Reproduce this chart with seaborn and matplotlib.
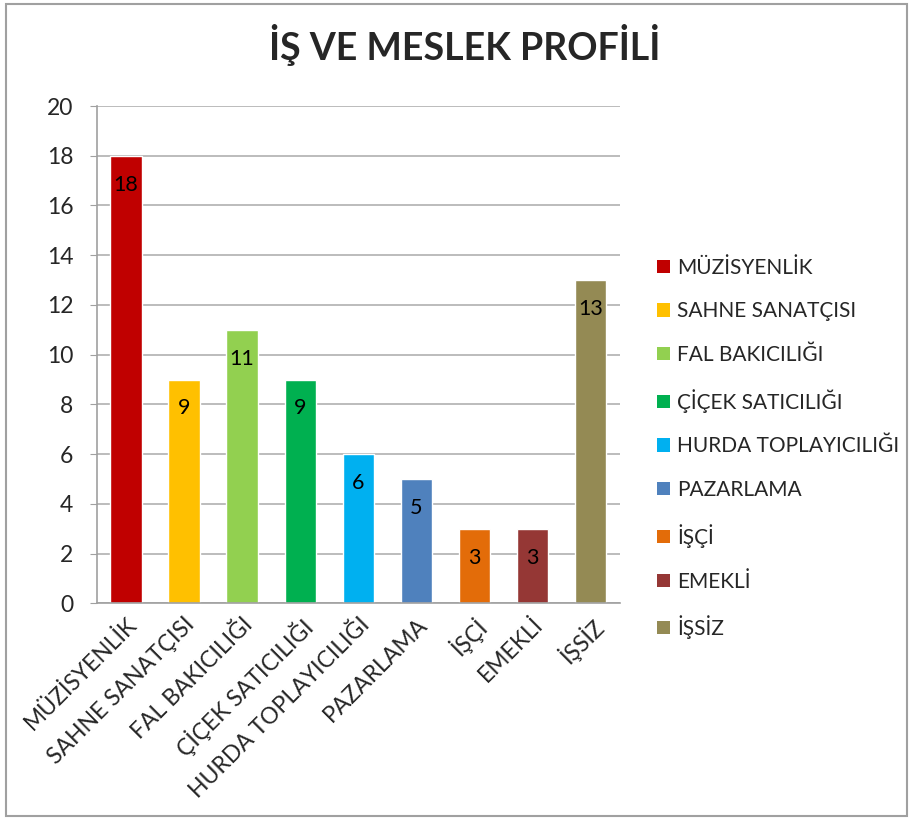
import matplotlib
matplotlib.use("Agg")
import matplotlib.pyplot as plt
import seaborn as sns
from matplotlib.patches import Patch, Rectangle

categories = ["MÜZİSYENLİK", "SAHNE SANATÇISI", "FAL BAKICILIĞI", "ÇİÇEK SATICILIĞI",
              "HURDA TOPLAYICILIĞI", "PAZARLAMA", "İŞÇİ", "EMEKLİ", "İŞSİZ"]
values = [18, 9, 11, 9, 6, 5, 3, 3, 13]
colors = ["#C00000", "#FFC000", "#92D050", "#00B050", "#00B0F0",
          "#4F81BD", "#E36C09", "#953735", "#948A54"]
y_ticks = list(range(0, 21, 2))

sns.set_style("white")
plt.rcParams["font.family"] = ["Lato", "DejaVu Sans"]

fig = plt.figure(figsize=(9.14, 8.22), dpi=100)
ax = fig.add_axes([0.106, 0.266, 0.572, 0.605])

sns.barplot(x=categories, y=values, hue=categories, palette=colors,
            width=0.54, saturation=1, legend=False, ax=ax)

ax.set_ylim(0, 20)
ax.set_yticks(y_ticks)
ax.set_xlim(-0.5, len(categories) - 0.5)
ax.yaxis.grid(True, color="#B0B0B0", linewidth=1.2)
ax.set_axisbelow(True)
for side in ["top", "right"]:
    ax.spines[side].set_visible(False)
for side in ["left", "bottom"]:
    ax.spines[side].set_color("#A0A0A0")
    ax.spines[side].set_linewidth(1.2)
ax.tick_params(axis="y", which="both", left=True, length=5, color="#A0A0A0",
               labelsize=16.5, pad=12)
ax.tick_params(axis="x", bottom=False, labelsize=16.5, pad=4)
plt.setp(ax.get_xticklabels(), rotation=45, ha="right", rotation_mode="anchor")

for cont in ax.containers:
    ax.bar_label(cont, padding=-28, fontsize=15.5, color="black")

handles = [Patch(facecolor=c, edgecolor="none") for c in colors]
ax.legend(handles, categories, loc="upper left", bbox_to_anchor=(1.056, 0.712),
          frameon=False, fontsize=15, handlelength=0.6, handleheight=0.6,
          handletextpad=0.35, labelspacing=1.14, borderaxespad=0)

fig.text(0.508, 0.945, "İŞ VE MESLEK PROFİLİ", ha="center", va="center",
         fontsize=27, fontweight="bold")

fig.patches.append(Rectangle((0.007, 0.007), 0.985, 0.988, transform=fig.transFigure,
                             fill=False, edgecolor="#A0A0A0", linewidth=1.5))

fig.savefig("out.png", dpi=100)
